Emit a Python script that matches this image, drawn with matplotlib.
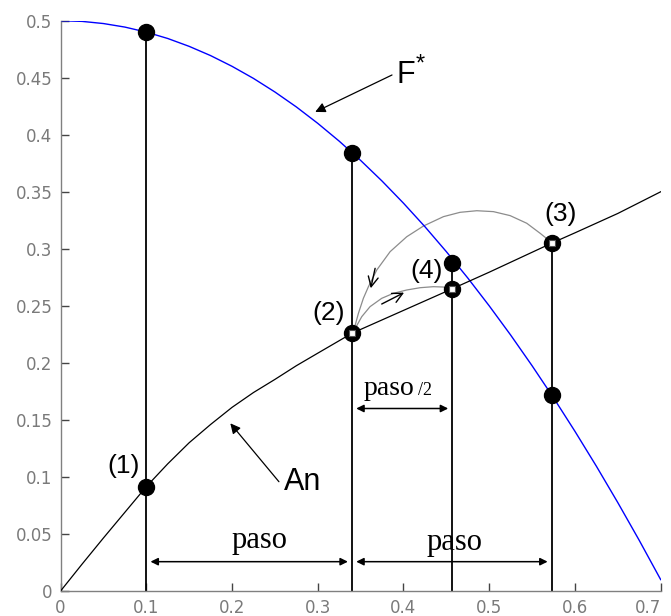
import matplotlib
matplotlib.use("Agg")
import matplotlib.pyplot as plt

# F* curve (blue)
f_x = [0.0, 0.025, 0.05, 0.075, 0.1, 0.125, 0.15, 0.175, 0.2, 0.225, 0.25, 0.275, 0.3, 0.325,
       0.35, 0.375, 0.4, 0.425, 0.45, 0.475, 0.5, 0.525, 0.55, 0.575, 0.6, 0.625, 0.65, 0.675, 0.7]
f_y = [0.5, 0.4994, 0.4975, 0.4944, 0.49, 0.4844, 0.4775, 0.4694, 0.46, 0.4494, 0.4375, 0.4244,
       0.41, 0.3944, 0.3775, 0.3594, 0.34, 0.3194, 0.2975, 0.2744, 0.25, 0.2244, 0.1975, 0.1694,
       0.14, 0.1094, 0.0775, 0.0444, 0.01]

# An curve (black)
an_x = [0.0, 0.025, 0.05, 0.075, 0.1, 0.125, 0.15, 0.175, 0.2, 0.225, 0.25, 0.275, 0.3, 0.34,
        0.4, 0.457, 0.5, 0.573, 0.6, 0.65, 0.7]
an_y = [0.0, 0.0235, 0.0465, 0.069, 0.0915, 0.1115, 0.130, 0.146, 0.161, 0.174, 0.1855, 0.1975,
        0.2085, 0.226, 0.246, 0.265, 0.2795, 0.305, 0.314, 0.331, 0.35]

# step positions and the points on each curve
step_x = [0.1, 0.34, 0.457, 0.573]
step_an = [0.0915, 0.226, 0.265, 0.305]
step_f = [0.49, 0.384, 0.288, 0.172]
line_top = [0.49, 0.384, 0.288, 0.305]
step_names = ["(1)", "(2)", "(4)", "(3)"]

# gray arcs from (2) to (3) and from (2) to (4)
arc_big_x = [0.3416, 0.3474, 0.3532, 0.3591, 0.3688, 0.3844, 0.4038, 0.4233, 0.4466,
             0.466, 0.4855, 0.5049, 0.5244, 0.5438, 0.5594, 0.573]
arc_big_y = [0.2274, 0.2434, 0.2566, 0.2668, 0.2814, 0.2975, 0.3106, 0.32, 0.3282,
             0.332, 0.3334, 0.3326, 0.3291, 0.3224, 0.3136, 0.3054]
arc_small_x = [0.3416, 0.3513, 0.361, 0.3746, 0.3883, 0.4038, 0.4194, 0.4349, 0.4466, 0.4582]
arc_small_y = [0.2274, 0.2405, 0.2493, 0.2566, 0.261, 0.2639, 0.2659, 0.2668, 0.2665, 0.2639]

xticks = [0, 0.1, 0.2, 0.3, 0.4, 0.5, 0.6, 0.7]
xtick_labels = ["0", "0.1", "0.2", "0.3", "0.4", "0.5", "0.6", "0.7"]
yticks = [0, 0.05, 0.1, 0.15, 0.2, 0.25, 0.3, 0.35, 0.4, 0.45, 0.5]
ytick_labels = ["0", "0.05", "0.1", "0.15", "0.2", "0.25", "0.3", "0.35", "0.4", "0.45", "0.5"]

SANS = "Liberation Sans"
SERIF = "Liberation Serif"
TICK_GRAY = "#7a7a7a"

fig = plt.figure(figsize=(6.71, 6.16), dpi=100)
ax = fig.add_axes([0.0903, 0.0406, 0.8943, 0.9258])
ax.set_xlim(0, 0.7)
ax.set_ylim(0, 0.5)

ax.plot(f_x, f_y, color="#0000ff", lw=1.0, zorder=3)
ax.plot(an_x, an_y, color="black", lw=0.9, zorder=3)
ax.plot(arc_big_x, arc_big_y, color="#8c8c8c", lw=0.9, zorder=2)
ax.plot(arc_small_x, arc_small_y, color="#8c8c8c", lw=0.9, zorder=2)

ax.vlines(step_x, 0, line_top, color="black", lw=1.3, zorder=2)
ax.plot(step_x, step_an, "o", color="black", ms=11.5, zorder=4)
ax.plot(step_x, step_f, "o", color="black", ms=11.5, zorder=4)
ax.plot(step_x[1:], step_an[1:], "s", ms=4.5, mfc="white", mec="#555555", mew=0.8, zorder=5)

# point labels
label_pos = [(0.074, 0.1096), (0.3125, 0.244), (0.4265, 0.2806), (0.5835, 0.3305)]
for name, (lx, ly) in zip(step_names, label_pos):
    ax.text(lx, ly, name, family=SANS, fontsize=19, ha="center", va="center")

# direction arrows on the arcs
arc_arrow = dict(arrowstyle="->", color="black", lw=1.0, mutation_scale=18, shrinkA=0, shrinkB=0)
ax.annotate("", xy=(0.3618, 0.2654), xytext=(0.3669, 0.2829), arrowprops=arc_arrow, zorder=4)
ax.annotate("", xy=(0.4007, 0.2616), xytext=(0.3746, 0.2516), arrowprops=arc_arrow, zorder=4)

# curve names
name_arrow = dict(arrowstyle="-|>", color="black", lw=0.9, mutation_scale=15, shrinkA=0, shrinkB=0)
ax.annotate("", xy=(0.297, 0.420), xytext=(0.3866, 0.4524), arrowprops=name_arrow)
ax.text(0.3922, 0.4524, "F", family=SANS, fontsize=22, ha="left", va="center")
ax.text(0.4145, 0.4615, "*", family=SANS, fontsize=17, ha="left", va="center")

ax.annotate("", xy=(0.198, 0.147), xytext=(0.2547, 0.0958), arrowprops=name_arrow)
ax.text(0.2605, 0.0958, "An", family=SANS, fontsize=22, ha="left", va="center")

# step width markers
dim_style = dict(arrowstyle="<|-|>", color="black", lw=1.1, mutation_scale=11,
                 shrinkA=3, shrinkB=3)
ax.annotate("", xy=(step_x[0], 0.0257), xytext=(step_x[1], 0.0257), arrowprops=dim_style)
ax.annotate("", xy=(step_x[1], 0.0257), xytext=(step_x[3], 0.0257), arrowprops=dim_style)
ax.annotate("", xy=(step_x[1], 0.16), xytext=(step_x[2], 0.16), arrowprops=dim_style)
ax.text(0.232, 0.0375, "paso", family=SERIF, fontsize=22, ha="center", va="baseline")
ax.text(0.459, 0.0355, "paso", family=SERIF, fontsize=22, ha="center", va="baseline")
ax.text(0.3535, 0.1715, "paso", family=SERIF, fontsize=20, ha="left", va="baseline")
ax.text(0.4165, 0.1715, "/2", family=SERIF, fontsize=13, ha="left", va="baseline")

for side in ("top", "right"):
    ax.spines[side].set_visible(False)
for side in ("left", "bottom"):
    ax.spines[side].set_color("#808080")
    ax.spines[side].set_linewidth(1.0)

ax.set_xticks(xticks, labels=xtick_labels)
ax.set_yticks(yticks, labels=ytick_labels)
ax.tick_params(direction="in", length=6, width=1, color="#444444",
               labelcolor=TICK_GRAY, labelsize=12, pad=6)
# keep the last x label inside the figure
ax.get_xticklabels()[-1].set_horizontalalignment("right")

fig.savefig("out.png", dpi=100)
